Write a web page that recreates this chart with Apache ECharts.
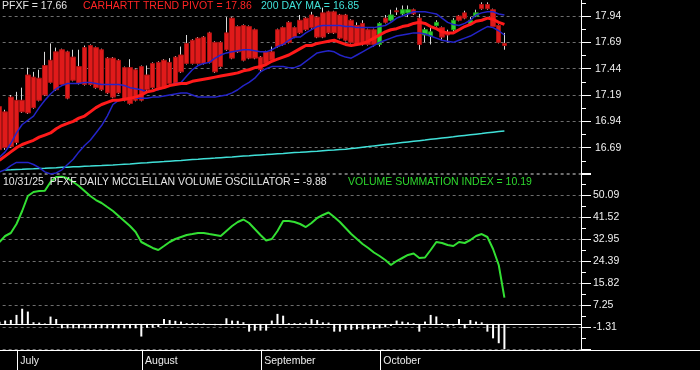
<!DOCTYPE html>
<html><head><meta charset="utf-8">
<script src="https://cdn.jsdelivr.net/npm/echarts@6/dist/echarts.min.js"></script>
<style>html,body{margin:0;padding:0;background:#000;}#c{width:700px;height:370px;}</style>
</head><body><div id="c"></div>
<script>
const dates = ['6/26','6/27','6/30',
'7/1','7/2','7/3','7/7','7/8','7/9','7/10','7/11','7/14','7/15','7/16','7/17','7/18','7/21','7/22','7/23','7/24','7/25','7/28','7/29','7/30','7/31',
'8/1','8/4','8/5','8/6','8/7','8/8','8/11','8/12','8/13','8/14','8/15','8/18','8/19','8/20','8/21','8/22','8/25','8/26','8/27','8/28','8/29',
'9/2','9/3','9/4','9/5','9/8','9/9','9/10','9/11','9/12','9/15','9/16','9/17','9/18','9/19','9/22','9/23','9/24','9/25','9/26','9/29','9/30',
'10/1','10/2','10/3','10/6','10/7','10/8','10/9','10/10','10/13','10/14','10/15','10/16','10/17','10/20','10/21','10/22','10/23','10/24','10/27','10/28','10/29','10/30','10/31'];
const futureDates = ['11/3','11/4','11/5','11/6','11/7','11/10','11/11','11/12','11/13','11/14','11/17','11/18','11/19'];
const monthLabels = {'7/1':'July','8/1':'August','9/2':'September','10/1':'October'};

const open = [17.08,17.03,17.17,17.14,17.14,17.38,17.36,17.35,17.47,17.52,17.60,17.62,17.60,17.55,17.46,17.64,17.66,17.64,17.62,17.54,17.54,17.52,17.45,17.45,17.43,17.46,17.38,17.49,17.50,17.52,17.50,17.55,17.57,17.68,17.71,17.73,17.74,17.78,17.69,17.69,17.78,17.92,17.84,17.85,17.84,17.81,17.55,17.60,17.60,17.81,17.83,17.88,17.83,17.90,17.92,17.95,17.93,17.97,17.98,17.98,17.95,17.95,17.90,17.85,17.87,17.81,17.81,17.67,17.92,17.90,17.99,17.96,17.97,18.00,17.92,17.76,17.75,17.85,17.83,17.77,17.81,17.94,17.97,17.86,17.94,18.05,18.05,18.00,17.85,17.68];
const close = [16.67,16.69,16.70,16.74,17.03,17.02,17.07,17.14,17.19,17.31,17.24,17.29,17.16,17.33,17.30,17.29,17.29,17.26,17.24,17.21,17.17,17.21,17.14,17.11,17.14,17.14,17.24,17.26,17.26,17.26,17.30,17.30,17.41,17.49,17.49,17.49,17.49,17.50,17.41,17.46,17.62,17.54,17.60,17.52,17.54,17.54,17.43,17.49,17.52,17.65,17.67,17.69,17.74,17.78,17.81,17.83,17.74,17.74,17.78,17.78,17.73,17.71,17.69,17.67,17.67,17.67,17.67,17.87,17.88,17.95,17.98,18.00,18.00,17.96,17.67,17.81,17.79,17.88,17.74,17.76,17.90,17.90,17.92,17.90,17.97,18.01,18.01,17.84,17.69,17.66];
const low = [16.65,16.67,16.69,16.72,17.02,17.01,17.06,17.13,17.18,17.30,17.23,17.28,17.15,17.32,17.29,17.28,17.28,17.25,17.23,17.20,17.16,17.20,17.13,17.10,17.13,17.13,17.23,17.25,17.25,17.25,17.29,17.29,17.40,17.48,17.48,17.48,17.48,17.49,17.40,17.45,17.61,17.53,17.59,17.51,17.53,17.53,17.41,17.48,17.51,17.64,17.66,17.68,17.73,17.77,17.80,17.82,17.73,17.73,17.77,17.77,17.72,17.70,17.68,17.66,17.66,17.66,17.65,17.65,17.87,17.89,17.95,17.94,17.93,17.95,17.62,17.69,17.67,17.84,17.71,17.69,17.79,17.89,17.91,17.85,17.93,18.00,18.00,17.83,17.68,17.62];
const high = [17.10,17.05,17.19,17.22,17.26,17.45,17.41,17.43,17.60,17.68,17.64,17.63,17.61,17.62,17.62,17.66,17.67,17.65,17.63,17.55,17.55,17.53,17.46,17.53,17.44,17.47,17.47,17.50,17.51,17.53,17.54,17.56,17.65,17.76,17.72,17.74,17.75,17.79,17.70,17.70,17.93,17.93,17.85,17.86,17.85,17.82,17.56,17.61,17.65,17.82,17.84,17.89,17.84,17.95,17.93,17.98,17.94,18.02,17.99,17.99,17.96,17.96,17.91,17.88,17.90,17.82,17.82,17.88,17.95,18.00,18.02,18.04,18.04,18.01,17.96,17.83,17.85,17.90,17.84,17.81,17.92,17.95,17.99,17.93,18.00,18.07,18.07,18.01,17.86,17.78];

const trendPivot = [16.57,16.61,16.65,16.69,16.72,16.74,16.76,16.79,16.81,16.83,16.87,16.90,16.92,16.94,16.97,16.99,17.03,17.07,17.10,17.12,17.14,17.14,17.15,17.16,17.17,17.19,17.22,17.23,17.25,17.26,17.28,17.29,17.30,17.30,17.32,17.33,17.34,17.35,17.36,17.37,17.38,17.39,17.40,17.42,17.43,17.45,17.46,17.48,17.51,17.53,17.55,17.57,17.60,17.63,17.66,17.66,17.68,17.69,17.70,17.71,17.69,17.67,17.66,17.67,17.68,17.70,17.73,17.76,17.79,17.81,17.82,17.84,17.85,17.87,17.88,17.87,17.84,17.82,17.79,17.78,17.78,17.81,17.84,17.86,17.89,17.90,17.92,17.91,17.88,17.86];
const upperMA = [16.60,16.65,16.73,16.83,16.91,16.95,16.99,17.07,17.14,17.20,17.25,17.28,17.30,17.30,17.30,17.31,17.31,17.30,17.29,17.29,17.29,17.29,17.28,17.26,17.25,17.24,17.22,17.23,17.24,17.26,17.28,17.30,17.31,17.37,17.43,17.47,17.49,17.50,17.54,17.57,17.59,17.60,17.61,17.62,17.62,17.61,17.60,17.60,17.62,17.65,17.67,17.71,17.74,17.74,17.78,17.81,17.84,17.85,17.85,17.85,17.85,17.84,17.84,17.83,17.83,17.83,17.83,17.84,17.85,17.88,17.92,17.94,17.96,17.98,17.98,17.98,17.97,17.96,17.92,17.88,17.86,17.85,17.87,17.90,17.95,17.97,17.98,17.98,17.96,17.95];
const lowerMA = [16.46,16.48,16.52,16.55,16.55,16.55,16.53,16.50,16.46,16.44,16.45,16.48,16.53,16.58,16.65,16.71,16.76,16.83,16.90,16.99,17.10,17.14,17.15,17.16,17.16,17.16,17.16,17.17,17.17,17.18,17.19,17.20,17.21,17.21,17.19,17.17,17.17,17.17,17.17,17.18,17.19,17.21,17.24,17.28,17.31,17.35,17.41,17.44,17.46,17.46,17.46,17.45,17.45,17.47,17.51,17.55,17.59,17.60,17.61,17.60,17.57,17.55,17.54,17.57,17.60,17.63,17.66,17.69,17.71,17.73,17.75,17.76,17.77,17.78,17.78,17.77,17.75,17.73,17.71,17.70,17.69,17.71,17.73,17.75,17.78,17.81,17.84,17.83,17.80,17.76];
const ma200 = [null,16.478,16.480,16.483,16.485,16.488,16.490,16.493,16.495,16.498,16.500,16.503,16.505,16.508,16.510,16.513,16.515,16.518,16.520,16.523,16.525,16.529,16.533,16.536,16.540,16.544,16.547,16.551,16.555,16.558,16.562,16.566,16.569,16.573,16.577,16.580,16.584,16.588,16.591,16.595,16.599,16.602,16.606,16.610,16.613,16.617,16.621,16.624,16.628,16.632,16.635,16.639,16.643,16.646,16.650,16.654,16.657,16.661,16.665,16.668,16.672,16.676,16.682,16.688,16.694,16.700,16.707,16.713,16.719,16.725,16.731,16.738,16.744,16.750,16.756,16.762,16.769,16.775,16.781,16.787,16.793,16.800,16.806,16.812,16.818,16.824,16.831,16.837,16.843,16.849];

const summationIndex = [31.83,34.16,35.32,38.82,43.87,49.70,51.25,51.64,51.76,55.14,57.08,57.19,56.57,55.14,53.58,51.64,49.70,48.14,46.98,45.42,43.87,41.93,39.98,38.04,35.71,31.83,30.66,29.50,28.72,30.27,31.83,32.99,33.77,34.55,34.93,35.32,35.32,34.93,34.55,34.16,36.10,38.04,39.60,40.57,39.21,36.88,34.55,32.41,32.99,36.10,39.98,39.98,39.60,38.82,37.65,39.21,41.15,42.32,43.29,41.54,39.60,37.27,34.93,32.99,31.05,29.50,27.75,26.39,24.83,22.89,24.44,25.61,26.78,27.36,25.61,25.80,28.72,31.83,31.44,30.66,30.27,31.83,31.44,32.60,34.16,34.93,33.77,29.11,22.89,10.19];
const volumeOsc = [0.8,1.3,1.55,3.5,5.9,4.8,0.65,0.5,0.2,2.85,1.9,-1.7,-1.7,-1.7,-1.7,-1.7,-1.7,-1.7,-1.7,-1.7,-1.7,-1.7,-1.7,-1.7,-1.7,-4.9,-1.5,-1.5,-1.2,1.9,1.5,1.2,0.9,0.3,0.3,0.2,0.2,-0.3,-0.5,-0.5,2.2,1.3,1.2,0.65,-3.0,-2.6,-2.6,-2.6,1.3,3.9,3.2,0.3,0.3,0.3,0.5,1.9,1.5,0.6,0.5,-3.0,-3.0,-2.3,-2.3,-2.1,-2.1,-2.1,-2.0,-1.7,-1.3,-0.8,1.3,0.9,0.6,0.3,-3.0,0.9,3.5,2.9,0.3,-1.0,-0.7,1.9,-1.7,1.5,0.9,0.6,-3.0,-5.6,-7.5,-9.88];

const priceAxis = {min: 16.44, max: 18.19, step: 0.25};
const oscAxis = {min: -9.88, max: 58.6536, step: 8.5667};

const categories = dates.concat(futureDates);
const FONT = 'Liberation Sans, Arial, sans-serif';
const chart = echarts.init(document.getElementById('c'), null, {renderer: 'canvas'});

const wickData = dates.map((d, i) => [open[i], close[i], low[i], high[i]]);
const bodyData = dates.map((d, i) => [open[i], close[i], Math.min(open[i], close[i]), Math.max(open[i], close[i])]);
const isMonthStart = (i, v) => monthLabels[v] !== undefined;

const gridLine = {show: true, lineStyle: {color: '#6e6e6e', type: [3, 3], width: 1}};
const tTxt = (text, left, top, color) => ({text, left, top, padding: 0,
  textStyle: {color, fontSize: 10.5, fontWeight: 'normal', fontFamily: FONT}});
const gridBase = {left: -3.36, right: 119, containLabel: false, outerBoundsMode: 'none'};

chart.setOption({
  backgroundColor: '#000',
  animation: false,
  title: [
    tTxt('PFXF = 17.66', 2, 1, '#e4e4e4'),
    tTxt('CARHARTT TREND PIVOT = 17.86', 83, 1, '#ff2424'),
    tTxt('200 DAY MA = 16.85', 261, 1, '#40e0d8'),
    tTxt('10/31/25  PFXF DAILY MCCLELLAN VOLUME OSCILLATOR = -9.88', 3, 177, '#e4e4e4'),
    tTxt('VOLUME SUMMATION INDEX = 10.19', 348, 177, '#2ed82e')
  ],
  grid: [
    Object.assign({top: -10.3, height: 184.3}, gridBase),
    Object.assign({top: 172.95, height: 176.4}, gridBase),
    {left: 0.28, right: 121.1, top: 350, height: 20, containLabel: false, outerBoundsMode: 'none'}
  ],
  xAxis: [
    {gridIndex: 0, type: 'category', data: categories, boundaryGap: true, show: false},
    {gridIndex: 1, type: 'category', data: categories, boundaryGap: true,
     axisLine: {show: true, onZero: true, lineStyle: {color: '#ffffff', width: 1}},
     axisTick: {show: false}, axisLabel: {show: false}, splitLine: {show: false}},
    {gridIndex: 2, type: 'category', data: categories, boundaryGap: false, position: 'top',
     axisLine: {show: false},
     axisTick: {show: false},
     axisLabel: {show: true, inside: true, interval: isMonthStart,
       formatter: v => monthLabels[v] || '', color: '#ececec', fontSize: 10.5, fontFamily: FONT,
       align: 'left', padding: [0, 0, 0, 3], margin: 6},
     splitLine: {show: true, interval: isMonthStart, lineStyle: {color: '#ffffff', width: 1, type: 'solid'}}}
  ],
  yAxis: [
    {gridIndex: 0, type: 'value', position: 'right', min: priceAxis.min, max: priceAxis.max, interval: priceAxis.step,
     axisLine: {show: true, lineStyle: {color: '#ffffff', width: 1}},
     axisTick: {show: true, length: 10, lineStyle: {color: '#ffffff'}},
     minorTick: {show: true, splitNumber: 2, length: 5, lineStyle: {color: '#ffffff'}},
     axisLabel: {color: '#f0f0f0', fontSize: 10.5, fontFamily: FONT, margin: 14,
       showMinLabel: false, showMaxLabel: false, formatter: v => v.toFixed(2)},
     splitLine: gridLine},
    {gridIndex: 1, type: 'value', position: 'right', min: oscAxis.min, max: oscAxis.max, interval: oscAxis.step,
     axisLine: {show: true, onZero: false, lineStyle: {color: '#ffffff', width: 1}},
     axisTick: {show: true, length: 10, lineStyle: {color: '#ffffff'}},
     minorTick: {show: true, splitNumber: 2, length: 5, lineStyle: {color: '#ffffff'}},
     axisLabel: {color: '#f0f0f0', fontSize: 10.5, fontFamily: FONT, margin: 12,
       showMinLabel: false, showMaxLabel: false, formatter: v => v.toFixed(2)},
     splitLine: gridLine},
    {gridIndex: 2, type: 'value', show: false}
  ],
  graphic: [
    {type: 'line', shape: {x1: 0, y1: 350.5, x2: 700, y2: 350.5}, style: {stroke: '#ffffff', lineWidth: 1}, z: 10}
  ],
  series: [
    {name: 'wick', type: 'candlestick', xAxisIndex: 0, yAxisIndex: 0, data: wickData, barWidth: 1,
     itemStyle: {color: '#d8d8d8', color0: '#d8d8d8', borderColor: '#d8d8d8', borderColor0: '#d8d8d8', borderWidth: 1},
     silent: true},
    {name: 'body', type: 'candlestick', xAxisIndex: 0, yAxisIndex: 0, data: bodyData, barWidth: 5,
     itemStyle: {color: '#2fd02f', color0: '#e01a1a', borderColor: '#1e9a1e', borderColor0: '#a81212', borderWidth: 1},
     silent: true},
    {name: '200 DAY MA', type: 'line', xAxisIndex: 0, yAxisIndex: 0, data: ma200, showSymbol: false,
     lineStyle: {color: '#40e0d8', width: 1.5}, silent: true},
    {name: 'lower', type: 'line', xAxisIndex: 0, yAxisIndex: 0, data: lowerMA, showSymbol: false,
     lineStyle: {color: '#2424c8', width: 1.5}, silent: true},
    {name: 'upper', type: 'line', xAxisIndex: 0, yAxisIndex: 0, data: upperMA, showSymbol: false,
     lineStyle: {color: '#2424c8', width: 1.5}, silent: true},
    {name: 'pivot', type: 'line', xAxisIndex: 0, yAxisIndex: 0, data: trendPivot, showSymbol: false,
     lineStyle: {color: '#ff1a1a', width: 3}, silent: true},
    {name: 'MVO', type: 'bar', xAxisIndex: 1, yAxisIndex: 1, data: volumeOsc, barWidth: 2,
     itemStyle: {color: '#ffffff'}, silent: true},
    {name: 'VSI', type: 'line', xAxisIndex: 1, yAxisIndex: 1, data: summationIndex, showSymbol: false,
     lineStyle: {color: '#33e033', width: 2}, silent: true}
  ]
});
</script>
</body></html>
